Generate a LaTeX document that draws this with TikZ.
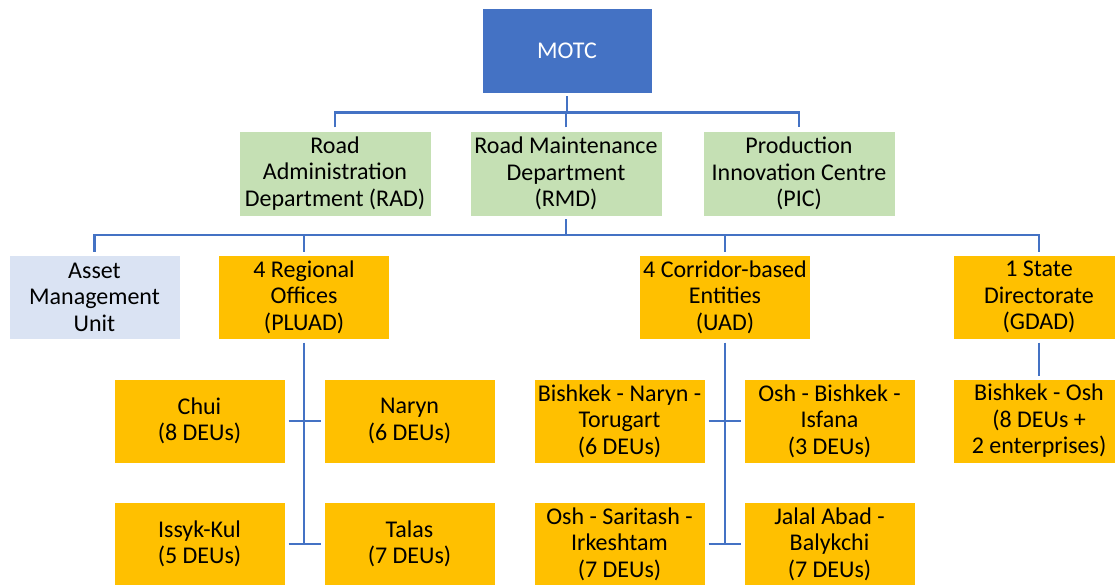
\documentclass[tikz,border=0pt]{standalone}
\usepackage{fontspec}
\setmainfont{Carlito}
\definecolor{motcblue}{HTML}{4472C4}
\definecolor{deptgreen}{HTML}{C5E0B4}
\definecolor{amublue}{HTML}{DAE3F3}
\definecolor{unitorange}{HTML}{FFC000}
\begin{document}
\begin{tikzpicture}[x=1pt,y=-1pt,
  box/.style={rectangle, draw=white, line width=0.6pt, inner sep=0pt, outer sep=3.5pt,
    align=center, font=\fontsize{24}{26.5}\selectfont, text=black},
  topbox/.style={box, fill=motcblue, text=white, minimum width=170, minimum height=85},
  deptbox/.style={box, fill=deptgreen, minimum width=192, minimum height=85},
  amubox/.style={box, fill=amublue, minimum width=171, minimum height=84},
  unitbox/.style={box, fill=unitorange, minimum width=171, minimum height=84},
  link/.style={draw=motcblue, line width=2.6pt}]
\useasboundingbox (0,0) rectangle (1115,585);
\begin{scope}
\clip (0,0) rectangle (1115,585);
% level 0
\node[topbox] (motc) at (567,50.5) {MOTC};
% level 1
\node[deptbox] (rad) at (335,173.5) {Road\\Administration\\Department (RAD)};
\node[deptbox] (rmd) at (566,173.5) {Road Maintenance\\Department\\(RMD)};
\node[deptbox] (pic) at (799,173.5) {Production\\Innovation Centre\\(PIC)};
% level 2
\node[amubox] (amu) at (94.5,297) {Asset\\Management\\Unit};
\node[unitbox] (reg) at (304,297) {4 Regional\\Offices\\(PLUAD)};
\node[unitbox] (cor) at (725,297) {4 Corridor-based\\Entities\\(UAD)};
\node[unitbox] (sd) at (1039,297) {1 State\\Directorate\\(GDAD)};
% level 3
\node[unitbox] (chui) at (199.5,421) {Chui\\(8 DEUs)};
\node[unitbox] (naryn) at (409.5,421) {Naryn\\(6 DEUs)};
\node[unitbox] (issyk) at (199.5,544) {Issyk-Kul\\(5 DEUs)};
\node[unitbox] (talas) at (409.5,544) {Talas\\(7 DEUs)};
\node[unitbox] (bnt) at (619.5,421) {Bishkek - Naryn -\\Torugart\\(6 DEUs)};
\node[unitbox] (obi) at (829.5,421) {Osh - Bishkek -\\Isfana\\(3 DEUs)};
\node[unitbox] (ost) at (619.5,544) {Osh - Saritash -\\Irkeshtam\\(7 DEUs)};
\node[unitbox] (jab) at (829.5,544) {Jalal Abad -\\Balykchi\\(7 DEUs)};
\node[unitbox] (bo) at (1039,421) {Bishkek - Osh\\(8 DEUs +\\2 enterprises)};
\end{scope}
\coordinate (barA) at (0,112.5);
\coordinate (barB) at (0,235);
% connectors
\draw[link] (motc.south) -- (motc.south |- barA);
\draw[link] (rad.north) -- (rad.north |- barA) -- (pic.north |- barA) -- (pic.north);
\draw[link] (rmd.north) -- (rmd.north |- barA);
\draw[link] (rmd.south) -- (rmd.south |- barB);
\draw[link] (amu.north) -- (amu.north |- barB) -- (sd.north |- barB) -- (sd.north);
\draw[link] (reg.north) -- (reg.north |- barB);
\draw[link] (cor.north) -- (cor.north |- barB);
\draw[link] (reg.south) -- (reg.south |- issyk.east);
\draw[link] (chui.east) -- (naryn.west);
\draw[link] (issyk.east) -- (talas.west);
\draw[link] (cor.south) -- (cor.south |- ost.east);
\draw[link] (bnt.east) -- (obi.west);
\draw[link] (ost.east) -- (jab.west);
\draw[link] (sd.south) -- (bo.north);
\end{tikzpicture}
\end{document}
